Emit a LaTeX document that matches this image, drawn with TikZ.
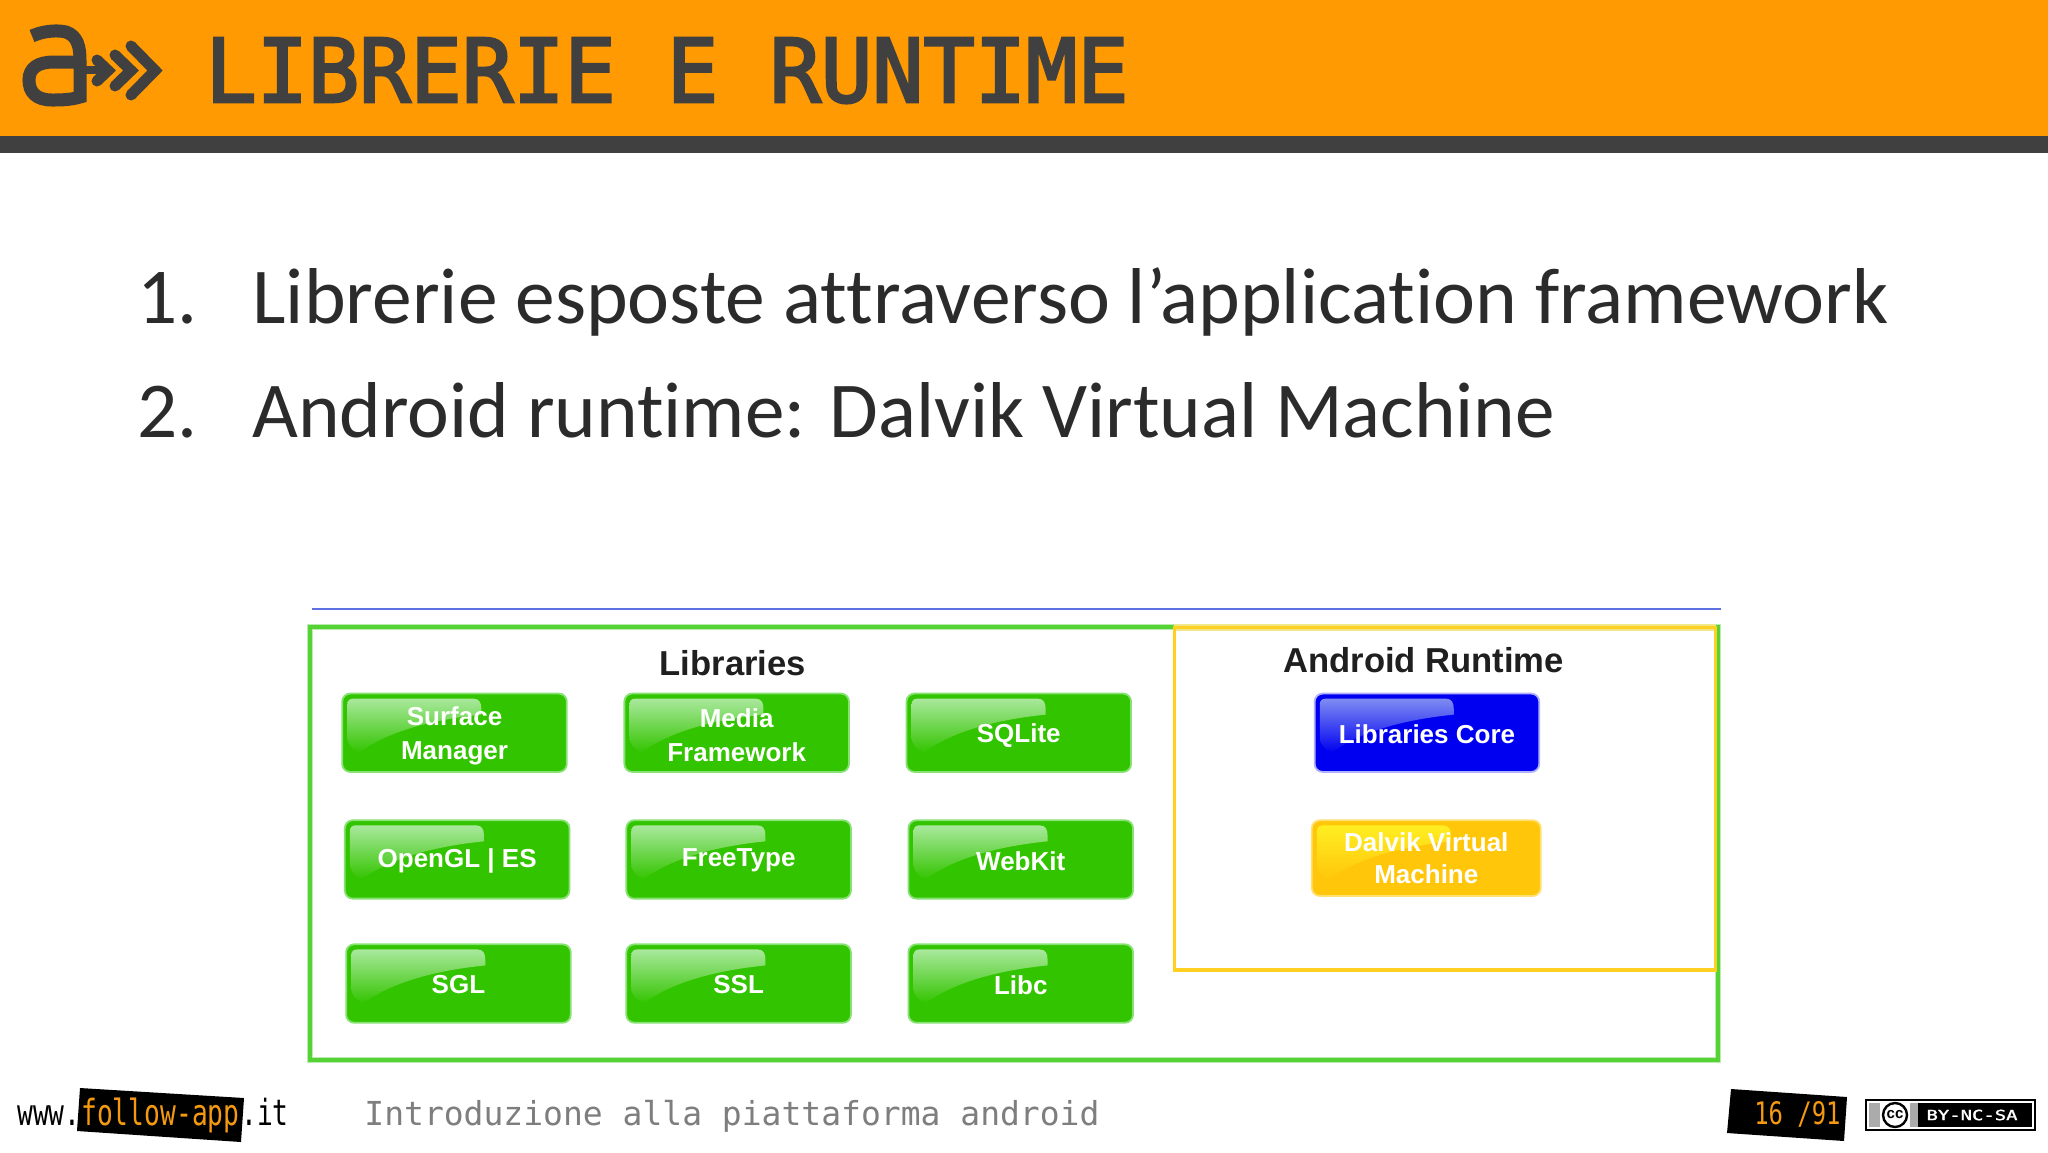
\documentclass[tikz,border=0pt]{standalone}
\usepackage{fontspec}
\setmainfont{Carlito}[Ligatures={NoCommon,NoContextual}]
\newfontfamily\titlefont[FakeBold=3]{DejaVu Sans Mono}
\newfontfamily\monofont{DejaVu Sans Mono}
\newfontfamily\monoboldfont[FakeBold=1.5]{DejaVu Sans Mono}
\newfontfamily\labelfont{Liberation Sans}[BoldFont={Liberation Sans Bold}]
\definecolor{headorange}{HTML}{FF9A02}
\definecolor{headdark}{HTML}{404040}
\definecolor{bodyink}{HTML}{2B2B2B}
\definecolor{linkblue}{HTML}{5F70E2}
\definecolor{boxgreen}{HTML}{55D335}
\definecolor{halogreen}{HTML}{BCEBB0}
\definecolor{boxyellow}{HTML}{FFCF22}
\definecolor{haloyellow}{HTML}{F0E68A}
\definecolor{btngreen}{HTML}{33C400}
\definecolor{rimgreen}{HTML}{86E272}
\definecolor{hlgreen}{HTML}{A9E89C}
\definecolor{btnblue}{HTML}{0000F0}
\definecolor{rimblue}{HTML}{B0B0FF}
\definecolor{hlblue}{HTML}{7F8CF2}
\definecolor{btnyellow}{HTML}{FFC60A}
\definecolor{rimyellow}{HTML}{FFE070}
\definecolor{hlyellow}{HTML}{FFEE22}
\definecolor{tagorange}{HTML}{F59A10}
\definecolor{footgrey}{HTML}{7E7E7E}
\definecolor{ccgrey}{HTML}{ABABAB}
\tikzset{
  full/.style={x=0.5pt,y=-0.5pt},
  small/.style={x=0.65306pt,y=-0.65306pt},
  btnbase/.style={rounded corners=4pt,inner sep=0pt,
    minimum width=112.3pt,minimum height=39.2pt,line width=.9pt},
  greenbtn/.style={btnbase,fill=btngreen,draw=rimgreen},
  bluebtn/.style={btnbase,fill=btnblue,draw=rimblue},
  yellowbtn/.style={btnbase,fill=btnyellow,draw=rimyellow,minimum width=114.5pt,minimum height=37.8pt},
  btntext/.style={inner sep=0pt,align=center,text=white,
    font=\labelfont\bfseries\fontsize{13}{17}\selectfont},
  grouptitle/.style={inner sep=0pt,text=black!88,font=\labelfont\bfseries\fontsize{17.3}{20}\selectfont},
  listtext/.style={anchor=base west,inner sep=0pt,text=bodyink,font=\fontsize{39.6}{44}\selectfont},
  logostroke/.style={draw=headdark,line width=5pt,line join=miter},
}
% #1 style, #2 highlight, #3 base, #4 name, #5 x, #6 y, #7 label y, #8 text
\newcommand{\glossbtn}[8]{%
  \node[#1] (#4) at (#5,#6) {};
  \shade[top color=#2,bottom color=#3,shift={(#4.north west)}]
     (6pt,-3pt) -- (66pt,-3pt) .. controls (69pt,-3pt) and (70pt,-5pt) .. (70pt,-8pt)
     -- (70pt,-11pt) .. controls (50pt,-13pt) and (25pt,-18pt) .. (9pt,-30pt)
     .. controls (5pt,-28pt) and (3pt,-26pt) .. (3pt,-22pt) -- (3pt,-6pt)
     .. controls (3pt,-4pt) and (4pt,-3pt) .. (6pt,-3pt) -- cycle;
  \node[btntext] (#4-label) at (#5,#7) {#8};
}
\begin{document}
\begin{tikzpicture}[full]
\useasboundingbox (0,0) rectangle (2048,1152);
\fill[white] (0,0) rectangle (2048,1152);
% header
\fill[headorange] (0,0) rectangle (2048,137);
\fill[headdark] (0,136) rectangle (2048,153);
% logo
\draw[logostroke,line width=6.5pt] (32,36) .. controls (48,29) and (62,31) .. (66,32)
  .. controls (78,36) and (80,48) .. (80,60) -- (80,97)
  .. controls (70,100) and (60,100) .. (52,100)
  .. controls (36,100) and (29,92) .. (29,80)
  .. controls (29,68) and (38,62) .. (54,62) -- (80,62);
\draw[logostroke,line width=4pt] (80,70) -- (108,70);
\draw[logostroke,line width=5.5pt,line cap=round] (97,60) -- (108,70.5) -- (97,81);
\draw[logostroke,line width=5.5pt,line cap=round] (115,55) -- (131,70.5) -- (115,86);
\draw[logostroke,line width=5.5pt,line cap=round] (131,46) -- (155,70.5) -- (131,95);
% title
\node[anchor=base west,inner sep=0pt,yscale=1.03,text=headdark,font=\titlefont\fontsize{42.6}{50}\selectfont] (title) at (205,102) {LIBRERIE E RUNTIME};
% list
\node[listtext] (num1) at (137,323) {1.};
\node[listtext,xscale=1.004] (item1) at (252,323) {Librerie esposte attraverso l’application framework};
\node[listtext] (num2) at (137,437) {2.};
\node[listtext] (item2) at (252,437) {Android runtime: Dalvik Virtual Machine};
% diagram
\begin{scope}[small]
  \coordinate (ruleA) at (239,466.3);
  \coordinate (ruleB) at (1318,466.3);
  \draw[linkblue,line width=1.4pt] (ruleA) -- (ruleB);
  \draw[halogreen,line width=3.2pt] (237.5,480) rectangle (1315.5,811.5);
  \draw[boxgreen,line width=1.8pt] (237.5,480) rectangle (1315.5,811.5);
  \fill[white] (900,482) rectangle (1313,741);
  \draw[haloyellow,line width=3.2pt] (899,480.5) -- (1314,480.5);
  \draw[boxyellow,line width=1.7pt] (899,480.5) rectangle (1313.5,742.5);
  \node[grouptitle] (libt) at (561,507.5) {Libraries};
  \node[grouptitle] (rtt) at (1090,505.5) {Android Runtime};
  \glossbtn{greenbtn}{hlgreen}{btngreen}{b11}{348}{561}{563}{Surface\\Manager}
  \glossbtn{greenbtn}{hlgreen}{btngreen}{b12}{564}{561}{563}{Media\\Framework}
  \glossbtn{greenbtn}{hlgreen}{btngreen}{b13}{780}{561}{563}{SQLite}
  \glossbtn{greenbtn}{hlgreen}{btngreen}{b21}{350}{658}{659}{OpenGL | ES}
  \glossbtn{greenbtn}{hlgreen}{btngreen}{b22}{565.5}{658}{659}{FreeType}
  \glossbtn{greenbtn}{hlgreen}{btngreen}{b23}{781.5}{658}{659}{WebKit}
  \glossbtn{greenbtn}{hlgreen}{btngreen}{b31}{351}{753}{754}{SGL}
  \glossbtn{greenbtn}{hlgreen}{btngreen}{b32}{565.5}{753}{754}{SSL}
  \glossbtn{greenbtn}{hlgreen}{btngreen}{b33}{781.5}{753}{754}{Libc}
  \glossbtn{bluebtn}{hlblue}{btnblue}{core}{1092.5}{561}{562}{Libraries Core}
  \glossbtn{yellowbtn}{hlyellow}{btnyellow}{dvm}{1092}{657}{657}{Dalvik Virtual\\[-1.2pt]Machine}
\end{scope}
% footer left
\fill[black] (80,1088) -- (244,1098) -- (241,1142) -- (77,1131) -- cycle;
\node[anchor=base west,inner sep=0pt,xscale=.73,text=black,font=\monofont\fontsize{18}{20}\selectfont] (www) at (17,1125) {www.};
\node[anchor=base west,inner sep=0pt,xscale=.73,text=tagorange,font=\monofont\fontsize{18}{20}\selectfont] (fa) at (81,1125) {follow-app};
\node[anchor=base west,inner sep=0pt,xscale=.73,text=black,font=\monofont\fontsize{18}{20}\selectfont] (it) at (241,1125) {.it};
\node[anchor=base west,inner sep=0pt,text=footgrey,font=\monofont\fontsize{16.5}{20}\selectfont] (foot) at (364,1125) {Introduzione alla piattaforma android};
% page number
\fill[black] (1731,1089) -- (1847,1097) -- (1844,1141) -- (1727,1133) -- cycle;
\node[anchor=base west,inner sep=0pt,xscale=.77,text=tagorange,font=\monofont\fontsize{15.5}{20}\selectfont] (page) at (1754,1124) {16 /91};
% licence badge
\fill[black] (1865,1099) rectangle (2036,1131);
\fill[white] (1867,1101) rectangle (2034,1129);
\fill[black] (1869,1103) rectangle (2032,1127);
\fill[ccgrey] (1869,1103) rectangle (1918,1127);
\fill[white] (1880,1102) rectangle (1910,1128);
\node[circle,draw=black,line width=1.2pt,fill=white,minimum size=12pt,inner sep=0pt,font=\labelfont\bfseries\fontsize{7.5}{8}\selectfont] (cc) at (1895,1115) {cc};
\node[inner sep=0pt,xscale=1.35,text=white,font=\monoboldfont\fontsize{7}{8}\selectfont] (lic) at (1972,1115) {BY-NC-SA};
\end{tikzpicture}
\end{document}
